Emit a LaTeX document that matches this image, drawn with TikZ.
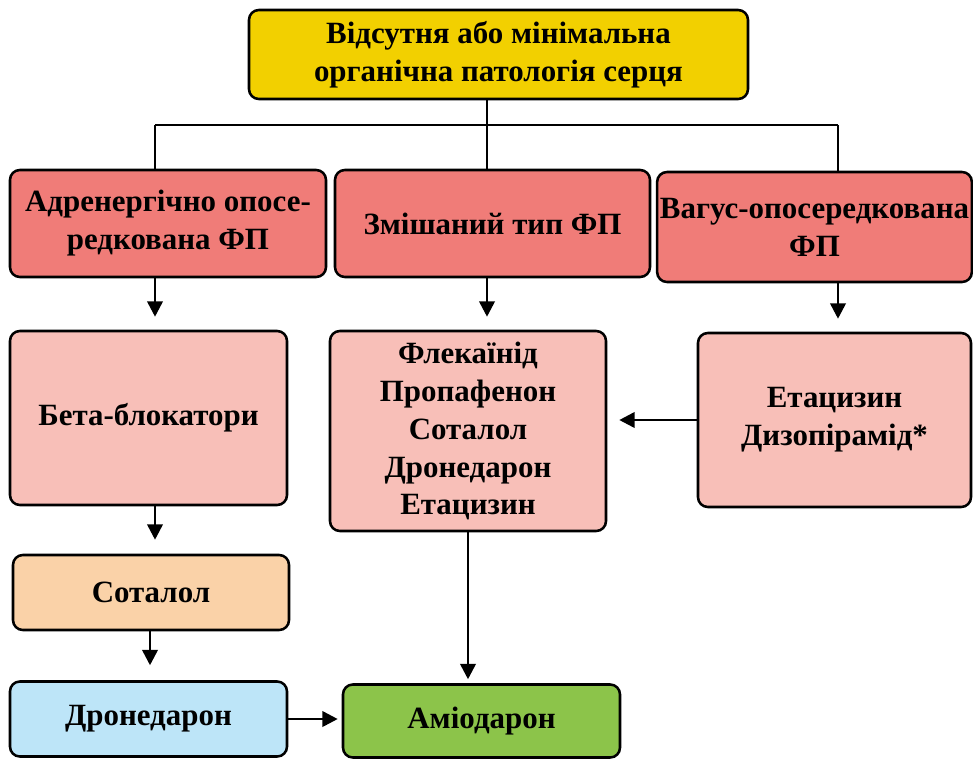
\documentclass[tikz,border=0pt]{standalone}
\usepackage{fontspec}
\setmainfont{Liberation Serif}
\usetikzlibrary{arrows.meta}

\definecolor{topyellow}{HTML}{F2D000}
\definecolor{typered}{HTML}{F07C78}
\definecolor{drugpink}{HTML}{F8BFB8}
\definecolor{sotpeach}{HTML}{FAD2A8}
\definecolor{dronblue}{HTML}{BDE5F8}
\definecolor{amiogreen}{HTML}{8CC44A}

\begin{document}
\begin{tikzpicture}[
    x=0.025cm, y=-0.025cm,
    box/.style={rectangle, rounded corners=7pt, draw=black, line width=1.8pt,
                align=center, inner sep=2pt,
                font=\bfseries\fontsize{22}{27}\selectfont},
    line/.style={-{Triangle[length=11pt,width=11pt]}, line width=1.9pt},
    link/.style={line width=1.9pt},
  ]
  \useasboundingbox (0,0) rectangle (973,758);

  \node[box, fill=topyellow, minimum width=499*0.025cm, minimum height=89*0.025cm]
    (root) at (498.5,54.5) {Відсутня або мінімальна\\органічна патологія серця};

  \node[box, fill=typered, minimum width=316*0.025cm, minimum height=107*0.025cm]
    (adren) at (168,223.5) {Адренергічно опосе-\\редкована ФП};
  \node[box, fill=typered, minimum width=315*0.025cm, minimum height=107*0.025cm]
    (mixed) at (492.5,223.5) {Змішаний тип ФП};
  \node[box, fill=typered, minimum width=313*0.025cm, minimum height=110*0.025cm]
    (vagus) at (814.5,227) {Вагус-опосередкована\\ФП};

  \node[box, fill=drugpink, minimum width=277*0.025cm, minimum height=174*0.025cm]
    (beta) at (148.5,418) {Бета-блокатори};
  \node[box, fill=drugpink, minimum width=276*0.025cm, minimum height=200*0.025cm]
    (mixdrugs) at (468,431) {Флекаїнід\\Пропафенон\\Соталол\\Дронедарон\\Етацизин};
  \node[box, fill=drugpink, minimum width=273*0.025cm, minimum height=174*0.025cm]
    (vagdrugs) at (834.5,420) {Етацизин\\Дизопірамід*};

  \node[box, fill=sotpeach, minimum width=276*0.025cm, minimum height=75*0.025cm]
    (sotalol) at (151,592.5) {Соталол};
  \node[box, fill=dronblue, minimum width=277*0.025cm, minimum height=75*0.025cm]
    (drone) at (148.5,719) {Дронедарон};
  \node[box, fill=amiogreen, minimum width=277*0.025cm, minimum height=73*0.025cm]
    (amio) at (481.5,721) {Аміодарон};

  % branch points under the root
  \coordinate (jleft)  at (155,125);
  \coordinate (jmid)   at (487,125);
  \coordinate (jright) at (838,125);
  \coordinate (jsot)   at (150,640);

  % trunk down from the root
  \draw[link] (root.south -| jmid) -- (jmid);
  \draw[link] (jleft) -- (jright);
  \draw[link] (jleft) -- (jleft |- adren.north);
  \draw[link] (jmid) -- (jmid |- mixed.north);
  \draw[link] (jright) -- (jright |- vagus.north);

  % types to drugs
  \draw[line, shorten >=13*0.025cm] (adren.south -| jleft) -- (jleft |- beta.north);
  \draw[line, shorten >=13*0.025cm] (mixed.south -| jmid) -- (jmid |- mixdrugs.north);
  \draw[line, shorten >=13*0.025cm] (vagus.south -| jright) -- (jright |- vagdrugs.north);
  \draw[line, shorten >=12*0.025cm] (vagdrugs.west) -- (vagdrugs.west -| mixdrugs.east);

  % left column
  \draw[line, shorten >=14*0.025cm] (beta.south -| jleft) -- (jleft |- sotalol.north);
  \draw[line, shorten >=15*0.025cm] (sotalol.south -| jsot) -- (jsot |- drone.north);
  \draw[line, shorten >=4*0.025cm] (drone.east) -- (drone.east -| amio.west);
  \draw[line, shorten >=4*0.025cm] (mixdrugs.south) -- (mixdrugs.south |- amio.north);

\end{tikzpicture}
\end{document}
